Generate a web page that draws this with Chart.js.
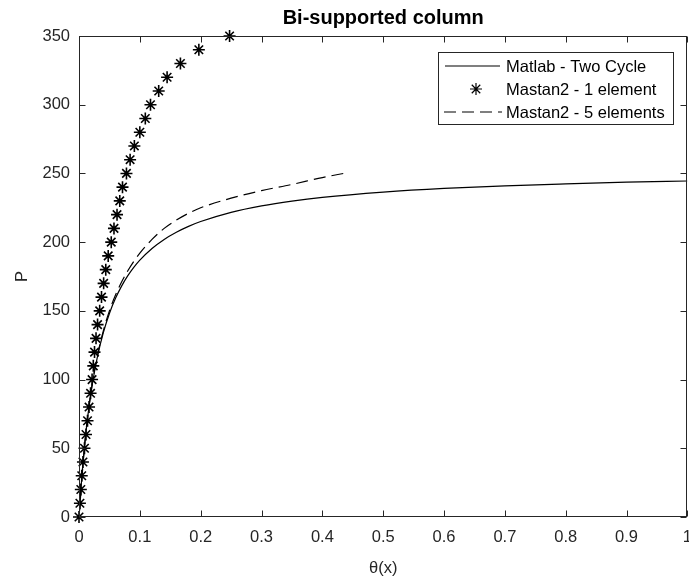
<!DOCTYPE html>
<html>
<head>
<meta charset="utf-8">
<script src="https://cdn.jsdelivr.net/npm/chart.js@4/dist/chart.umd.min.js"></script>
<style>
html,body{margin:0;padding:0;background:#fff;overflow:hidden;}
#wrap{width:689px;height:578px;overflow:hidden;}
canvas{display:block;}
</style>
</head>
<body>
<div id="wrap"><canvas id="c" width="695" height="578"></canvas></div>
<script>
// ---- data ----
const chartTitle = "Bi-supported column";
const xAxisTitle = "θ(x)";
const yAxisTitle = "P";
const seriesNames = ["Matlab - Two Cycle", "Mastan2 - 1 element", "Mastan2 - 5 elements"];

const xTickLabels = ["0","0.1","0.2","0.3","0.4","0.5","0.6","0.7","0.8","0.9","1"];
const yTickLabels = ["0","50","100","150","200","250","300","350"];

// Matlab - Two Cycle (solid line)
const solidTheta = [0,0.005,0.01,0.015,0.02,0.025,0.03,0.04,0.05,0.06,0.07,0.08,0.09,0.1,0.12,0.14,0.16,0.18,0.2,0.25,0.3,0.35,0.4,0.5,0.6,0.7,0.8,0.9,1.0];
const solidP     = [0,31.3,55.6,75.2,91.2,104.6,116.0,134.1,148.1,159.1,168.0,175.4,181.6,186.9,195.4,202.0,207.2,211.5,215.0,221.7,226.4,229.9,232.6,236.4,239.1,241.0,242.4,243.6,244.5];

// Mastan2 - 1 element (star markers)
const starP     = [0,10,20,30,40,50,60,70,80,90,100,110,120,130,140,150,160,170,180,190,200,210,220,230,240,250,260,270,280,290,300,310,320,330,340,350];
const starTheta = [0,0.0015,0.003,0.0045,0.0065,0.009,0.0115,0.014,0.0165,0.019,0.0215,0.0235,0.0255,0.028,0.0305,0.034,0.037,0.0405,0.044,0.048,0.053,0.0575,0.0625,0.067,0.0715,0.078,0.084,0.091,0.1,0.109,0.1175,0.131,0.1448,0.1667,0.197,0.2475];

// Mastan2 - 5 elements (dashed line)
const dashTheta = [0,0.01,0.02,0.03,0.04,0.05,0.06,0.07,0.08,0.09,0.1,0.12,0.14,0.16,0.18,0.2,0.25,0.3,0.35,0.4,0.435];
const dashP     = [0,56,92,117,135.5,150,161.5,171,179,186,192,202,210,216,221,225,232,237.5,242,247,250];

// ---- chart ----
const FONT = "'Liberation Sans', Arial, Helvetica, sans-serif";
const AX = '#262626';
const pts = (xs, ys) => xs.map((v, i) => ({x: v, y: ys[i]}));

const boxAndTicks = {
  id: 'boxAndTicks',
  afterDatasetsDraw(chart) {
    const {ctx, chartArea: a, scales: {x, y}} = chart;
    ctx.save();
    ctx.strokeStyle = AX;
    ctx.lineWidth = 1;
    const L = Math.round(a.left) + 0.5, R = Math.round(a.right) - 0.5;
    const T = Math.round(a.top) + 0.5, B = Math.round(a.bottom) - 0.5;
    ctx.beginPath();
    x.ticks.forEach(t => {
      const px = Math.round(x.getPixelForValue(t.value)) + 0.5;
      ctx.moveTo(px, B); ctx.lineTo(px, B - 6);
      ctx.moveTo(px, T); ctx.lineTo(px, T + 6);
    });
    y.ticks.forEach(t => {
      const py = Math.round(y.getPixelForValue(t.value)) + 0.5;
      ctx.moveTo(L, py); ctx.lineTo(L + 6, py);
      ctx.moveTo(R, py); ctx.lineTo(R - 6, py);
    });
    ctx.stroke();
    ctx.strokeRect(L, T, R - L, B - T);
    ctx.restore();
  },
  afterDraw(chart) {
    const ctx = chart.ctx;
    ctx.save();
    // legend box
    ctx.fillStyle = '#fff';
    ctx.fillRect(438.5, 52.5, 235, 72);
    ctx.strokeStyle = AX;
    ctx.lineWidth = 1;
    ctx.strokeRect(438.5, 52.5, 235, 72);
    const rows = [66, 89, 112];
    const ds = chart.data.datasets;
    ctx.strokeStyle = '#000';
    ctx.lineWidth = 1.2;
    ctx.setLineDash([]);
    ctx.beginPath(); ctx.moveTo(445, rows[0]); ctx.lineTo(500, rows[0]); ctx.stroke();
    ctx.fillStyle = '#000';
    Chart.helpers.drawPoint(ctx, {pointStyle: 'star', radius: 6, rotation: 0, borderWidth: 1.6}, 476, rows[1]);
    ctx.strokeStyle = '#000';
    ctx.lineWidth = 1.2;
    ctx.setLineDash([12, 6]);
    ctx.beginPath(); ctx.moveTo(444, rows[2]); ctx.lineTo(502, rows[2]); ctx.stroke();
    ctx.setLineDash([]);
    ctx.fillStyle = '#000';
    ctx.font = "16.5px " + FONT;
    ctx.textAlign = 'left';
    ctx.textBaseline = 'middle';
    ds.forEach((d, i) => ctx.fillText(d.label, 506, rows[i] + 1));
    ctx.restore();
  }
};

new Chart(document.getElementById('c'), {
  type: 'scatter',
  data: {
    datasets: [
      {label: seriesNames[0], data: pts(solidTheta, solidP), showLine: true, borderColor: '#000', borderWidth: 1.2, pointRadius: 0, cubicInterpolationMode: 'monotone'},
      {label: seriesNames[1], data: pts(starTheta, starP), showLine: false, pointStyle: 'star', pointRadius: 6, borderColor: '#000', backgroundColor: '#000', pointBorderWidth: 1.6, clip: false},
      {label: seriesNames[2], data: pts(dashTheta, dashP), showLine: true, borderColor: '#000', borderWidth: 1.2, borderDash: [12, 6], pointRadius: 0, cubicInterpolationMode: 'monotone'}
    ]
  },
  options: {
    responsive: false,
    animation: false,
    layout: {padding: 0},
    plugins: {
      legend: {display: false},
      tooltip: {enabled: false},
      title: {display: true, fullSize: false, text: chartTitle, color: '#000', font: {family: FONT, size: 20, weight: 'bold'}, padding: {top: 6, bottom: 6}}
    },
    scales: {
      x: {
        type: 'linear', min: 0, max: 1,
        grid: {display: false, drawTicks: false},
        border: {display: false},
        ticks: {stepSize: 0.1, padding: 11, color: AX, font: {family: FONT, size: 16.5}, maxRotation: 0, autoSkip: false,
                callback: (v, i) => xTickLabels[i]},
        title: {display: true, text: xAxisTitle, color: AX, font: {family: FONT, size: 16.5}, padding: {top: 0, bottom: 0}},
        afterFit: s => { s.height = 61; s.paddingRight = 0; }
      },
      y: {
        type: 'linear', min: 0, max: 350,
        grid: {display: false, drawTicks: false},
        border: {display: false},
        ticks: {stepSize: 50, padding: 9, color: AX, font: {family: FONT, size: 16.5}, autoSkip: false,
                callback: (v, i) => yTickLabels[i]},
        title: {display: true, text: yAxisTitle, color: AX, font: {family: FONT, size: 16.5}, padding: {top: 13, bottom: 0}},
        afterFit: s => { s.width = 79; }
      }
    }
  },
  plugins: [boxAndTicks]
});
</script>
</body>
</html>
